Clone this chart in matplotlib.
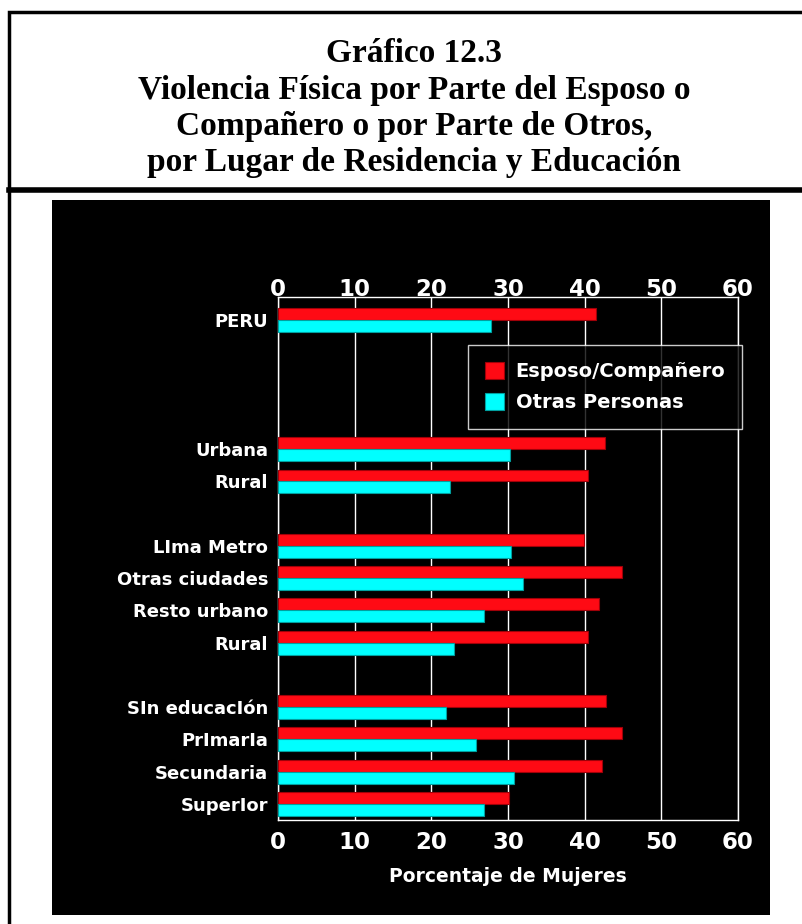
import matplotlib.pyplot as plt
from matplotlib.patches import Rectangle
from matplotlib.lines import Line2D

# datos del gráfico
categorias = ['PERU', 'Urbana', 'Rural', 'LIma Metro', 'Otras ciudades',
              'Resto urbano', 'Rural', 'SIn educacIón', 'PrImarIa',
              'Secundaria', 'SuperIor']
posiciones = [0, 4, 5, 7, 8, 9, 10, 12, 13, 14, 15]
esposo = [41.5, 42.7, 40.4, 39.9, 44.9, 41.9, 40.4, 42.8, 44.9, 42.3, 30.1]
otras = [27.8, 30.2, 22.4, 30.4, 31.9, 26.9, 22.9, 21.9, 25.8, 30.8, 26.9]
ticks = [0, 10, 20, 30, 40, 50, 60]

titulo = ['Gráfico 12.3',
          'Violencia Física por Parte del Esposo o',
          'Compañero o por Parte de Otros,',
          'por Lugar de Residencia y Educación']

W, H = 802, 924
fig = plt.figure(figsize=(W / 100, H / 100), dpi=100)
fig.patch.set_facecolor('white')

def fx(px):
    return px / W

def fy(py):
    return 1 - py / H

# marco exterior y separador del título
fig.add_artist(Rectangle((fx(9), fy(940)), fx(820), fy(12) - fy(940),
                         transform=fig.transFigure, fill=False, ec='black', lw=2.5))
fig.add_artist(Line2D([fx(9), 1.0], [fy(190), fy(190)], transform=fig.transFigure,
                      color='black', lw=4))

# títulos
ys = [53, 90, 126, 162]
for t, y in zip(titulo, ys):
    fig.text(fx(414), fy(y), t, ha='center', va='center', fontsize=24,
             fontweight='bold', family='Liberation Serif', color='black')

# panel negro
fig.add_artist(Rectangle((fx(52), fy(915)), fx(770) - fx(52), fy(200) - fy(915),
                         transform=fig.transFigure, fc='black', ec='none', zorder=0))

ax = fig.add_axes([fx(278), fy(820), fx(738) - fx(278), fy(297) - fy(820)])
ax.set_facecolor('black')

h = 0.37
ax.barh([p - h / 2 for p in posiciones], esposo, height=h, color='#ff0a14',
        edgecolor='#a00008', lw=0.8, label='Esposo/Compañero', zorder=3)
ax.barh([p + h / 2 for p in posiciones], otras, height=h, color='#00ffff',
        edgecolor='#00a0a0', lw=0.8, label='Otras Personas', zorder=3)

ax.set_xlim(0, 60)
ax.set_ylim(15.5, -0.72)
ax.set_xticks(ticks)
ax.set_yticks(posiciones)
ax.set_yticklabels(categorias)
ax.xaxis.grid(True, color='white', lw=1)
ax.set_axisbelow(True)
for s in ax.spines.values():
    s.set_color('white')
    s.set_linewidth(1)

# eje inferior
ax.tick_params(axis='x', length=0, pad=8, colors='white')
ax.tick_params(axis='y', length=0, pad=7, colors='white')
for lab in ax.get_xticklabels():
    lab.set_fontsize(16.5)
    lab.set_fontweight('heavy')
    lab.set_family('DejaVu Sans')
for lab in ax.get_yticklabels():
    lab.set_fontsize(13)
    lab.set_fontweight('bold')
    lab.set_family('DejaVu Sans')

# eje superior
top = ax.secondary_xaxis('top')
top.set_xticks(ticks)
top.tick_params(axis='x', length=0, pad=-3, colors='white')
top.spines['top'].set_visible(False)
for lab in top.get_xticklabels():
    lab.set_fontsize(16.5)
    lab.set_fontweight('heavy')
    lab.set_family('DejaVu Sans')

ax.set_xlabel('Porcentaje de Mujeres', color='white', fontsize=13.5,
              fontweight='bold', labelpad=9)

leg = ax.legend(loc='upper left', bbox_to_anchor=(0.413, 0.908), frameon=True,
                fancybox=False, facecolor='black', edgecolor='white',
                prop={'weight': 'bold', 'size': 14}, handlelength=1.0,
                handleheight=1.0, borderpad=0.85, labelspacing=0.6,
                handletextpad=0.6, borderaxespad=0)
leg.get_frame().set_linewidth(1)
for t in leg.get_texts():
    t.set_color('white')

fig.savefig('out.png', dpi=100, facecolor='white')
